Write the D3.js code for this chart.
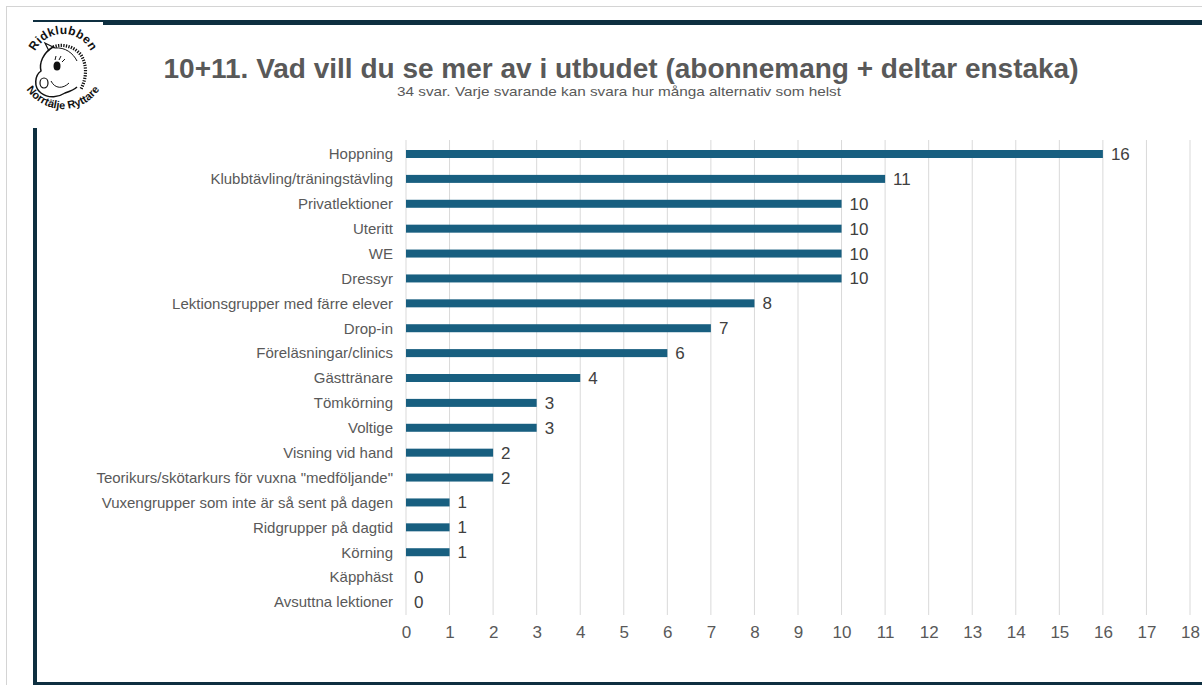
<!DOCTYPE html>
<html>
<head>
<meta charset="utf-8">
<script src="https://cdn.jsdelivr.net/npm/d3@7"></script>
<style>
  body { margin: 0; background: #fff; }
  svg { display: block; font-family: "Liberation Sans", Arial, sans-serif; }
</style>
</head>
<body>
<svg id="chart"></svg>
<script>
const categories = [
  "Hoppning", "Klubbtävling/träningstävling", "Privatlektioner", "Uteritt", "WE", "Dressyr",
  "Lektionsgrupper med färre elever", "Drop-in", "Föreläsningar/clinics", "Gästtränare",
  "Tömkörning", "Voltige", "Visning vid hand", "Teorikurs/skötarkurs för vuxna \"medföljande\"",
  "Vuxengrupper som inte är så sent på dagen", "Ridgrupper på dagtid", "Körning",
  "Käpphäst", "Avsuttna lektioner"
]
const values = [16, 11, 10, 10, 10, 10, 8, 7, 6, 4, 3, 3, 2, 2, 1, 1, 1, 0, 0]
const ticks = d3.range(0, 19)

const titel = "10+11. Vad vill du se mer av i utbudet (abonnemang + deltar enstaka)"
const underrubrik = "34 svar. Varje svarande kan svara hur många alternativ som helst"

const width = 1202
const height = 685
const navy = "#0e2f40"

const svg = d3.select('#chart')
    .attr("width", width)
    .attr("height", height)

// ram
svg.append("rect").attr("x", 6).attr("y", 6).attr("width", 1).attr("height", height - 6).attr("fill", "#d4d4d4")
svg.append("rect").attr("x", 6).attr("y", 6).attr("width", width - 6).attr("height", 1).attr("fill", "#d4d4d4")
svg.append("rect").attr("x", 33).attr("y", 20).attr("width", 70).attr("height", 2).attr("fill", navy)
svg.append("rect").attr("x", 103).attr("y", 20).attr("width", width - 103).attr("height", 5).attr("fill", navy)
svg.append("rect").attr("x", 33).attr("y", 128).attr("width", 4).attr("height", height - 128).attr("fill", navy)
svg.append("rect").attr("x", 33).attr("y", 682).attr("width", width - 33).attr("height", 3).attr("fill", navy)

drawLogo(63, 65)

svg.append("text")
    .attr("x", 621).attr("y", 78)
    .attr("text-anchor", "middle")
    .attr("font-size", 28).attr("font-weight", "bold")
    .attr("fill", "#595959")
    .text(titel)

svg.append("text")
    .attr("x", 397).attr("y", 96)
    .attr("font-size", 13)
    .attr("textLength", 444)
    .attr("lengthAdjust", "spacingAndGlyphs")
    .attr("fill", "#595959")
    .text(underrubrik)

const x = d3.scaleLinear()
    .domain([0, 18])
    .range([406, 1190])

const y = d3.scalePoint()
    .domain(categories)
    .range([154, 602])

// stödlinjer
svg.append("g")
    .selectAll("line")
    .data(ticks)
    .enter()
    .append("line")
    .attr("x1", d => x(d)).attr("x2", d => x(d))
    .attr("y1", 140).attr("y2", 615)
    .attr("stroke", "#d9d9d9")
    .attr("stroke-width", 1)

const xAxis = svg.append("g")
    .attr("transform", "translate(0,615)")
    .call(d3.axisBottom(x).tickValues(ticks).tickSize(0).tickPadding(11).tickFormat(d3.format("d")))
xAxis.select(".domain").remove()
xAxis.selectAll("text")
    .attr("font-size", 17)
    .attr("font-family", "Liberation Sans, Arial, sans-serif")
    .attr("fill", "#595959")

const yAxis = svg.append("g")
    .attr("transform", "translate(406,0)")
    .call(d3.axisLeft(y).tickSize(0).tickPadding(13))
yAxis.select(".domain").remove()
yAxis.selectAll("text")
    .attr("font-size", 15)
    .attr("font-family", "Liberation Sans, Arial, sans-serif")
    .attr("fill", "#595959")

const data = categories.map((c, i) => ({ key: c, amount: values[i] }))

svg.append("g")
    .selectAll("rect")
    .data(data)
    .enter()
    .append("rect")
    .attr("x", x(0))
    .attr("y", d => y(d.key) - 4)
    .attr("width", d => x(d.amount) - x(0))
    .attr("height", 8)
    .attr("fill", "#185f80")

svg.append("g")
    .selectAll("text")
    .data(data)
    .enter()
    .append("text")
    .attr("x", d => x(d.amount) + 8)
    .attr("y", d => y(d.key) + 6)
    .attr("font-size", 17)
    .attr("fill", "#404040")
    .text(d => d.amount)

// logga, ungefärlig
function drawLogo(cx, cy) {
    const g = svg.append("g").attr("transform", `translate(${cx},${cy})`)
    const defs = svg.append("defs")
    defs.append("path").attr("id", "arcTop")
        .attr("d", "M -31 0 A 31 31 0 0 1 31 0")
    defs.append("path").attr("id", "arcBottom")
        .attr("d", "M -44 0 A 44 44 0 0 0 44 0")

    g.append("text").attr("font-size", 12).attr("font-weight", "bold").attr("fill", "#111")
        .attr("letter-spacing", 0.4)
        .append("textPath").attr("href", "#arcTop")
        .attr("startOffset", "50%").attr("text-anchor", "middle")
        .text("Ridklubben")
    g.append("text").attr("font-size", 11).attr("font-weight", "bold").attr("fill", "#111")
        .append("textPath").attr("href", "#arcBottom")
        .attr("startOffset", "50%").attr("text-anchor", "middle")
        .text("Norrtälje Ryttare")

    // hästhuvud
    const h = g.append("g").attr("transform", "translate(-2,4)")
    h.append("path")
        .attr("d", "M -8 -22 C -18 -16 -22 -6 -20 2 C -26 6 -28 18 -20 24 C -12 30 -2 28 4 24 C 10 22 14 20 16 18")
        .attr("fill", "none").attr("stroke", "#111").attr("stroke-width", 1.5)
    h.append("path")
        .attr("d", "M -8 -22 C 2 -26 14 -22 20 -14 C 26 -4 26 8 20 20")
        .attr("fill", "none").attr("stroke", "#111").attr("stroke-width", 3.2).attr("stroke-dasharray", "1.3 1.3")
    h.append("path")
        .attr("d", "M -6 -21 C 4 -22 12 -16 16 -8")
        .attr("fill", "none").attr("stroke", "#111").attr("stroke-width", 1)
    h.append("ellipse").attr("cx", -17).attr("cy", 14).attr("rx", 4).attr("ry", 5)
        .attr("fill", "none").attr("stroke", "#111").attr("stroke-width", 1.2)
    h.append("ellipse").attr("cx", -4).attr("cy", -3).attr("rx", 3.5).attr("ry", 4.5).attr("fill", "#111")
    h.append("path").attr("d", "M -6 -9 L -5 -13 M -2 -9 L 0 -13 M 1 -7 L 4 -10")
        .attr("stroke", "#111").attr("stroke-width", 1)
    h.append("path").attr("d", "M -10 12 C -6 20 2 20 8 14")
        .attr("fill", "none").attr("stroke", "#111").attr("stroke-width", 1)
    h.append("path").attr("d", "M -12 -18 L -16 -26 L -6 -21")
        .attr("fill", "none").attr("stroke", "#111").attr("stroke-width", 1.2)
}
</script>
</body>
</html>
